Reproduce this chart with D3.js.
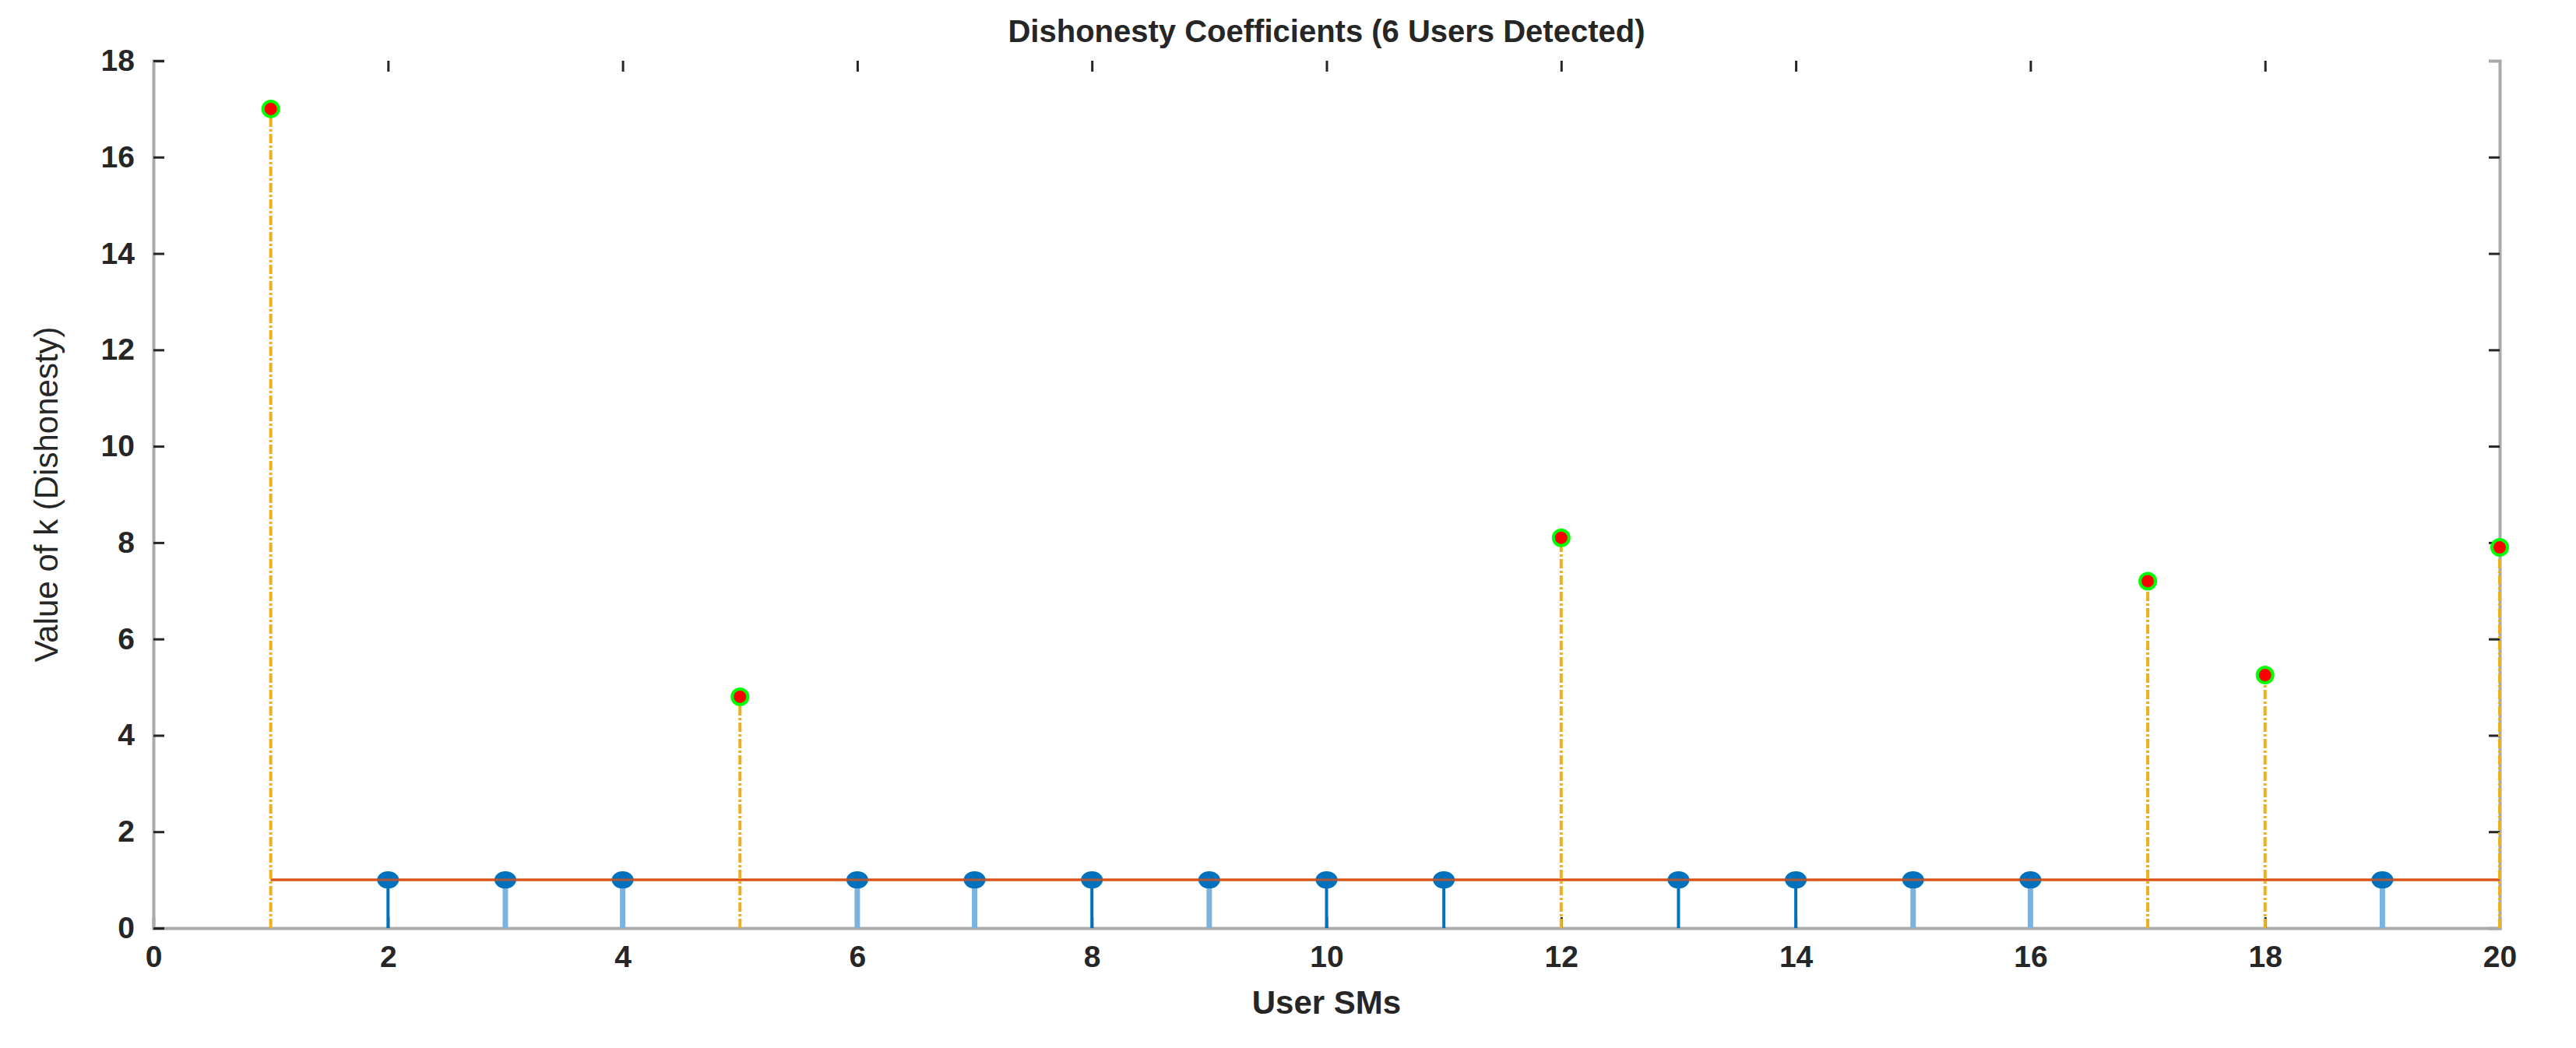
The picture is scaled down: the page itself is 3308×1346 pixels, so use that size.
<!DOCTYPE html>
<meta charset="utf-8">
<style>
body { margin: 0; background: #fff; }
text { font-family: "Liberation Sans", Arial, sans-serif; font-weight: bold; fill: #262626; }
</style>
<body>
<script src="https://cdnjs.cloudflare.com/ajax/libs/d3/7.8.5/d3.min.js"></script>
<script>
var users = d3.range(1, 21);
var kValues = [17, 1, 1, 1, 4.8, 1, 1, 1, 1, 1, 1, 8.1, 1, 1, 1, 1, 7.2, 5.25, 1, 7.9];
var dishonest = [1, 5, 12, 17, 18, 20];
var lightStems = [3, 4, 6, 7, 9, 15, 16, 19];
var xTicks = d3.range(0, 21, 2);
var yTicks = d3.range(0, 19, 2);
var threshold = 1;

var W = 3308, H = 1346;
var m = {left: 197, right: W - 3210, top: 78, bottom: H - 1192};

var svg = d3.select("body").append("svg").attr("width", W).attr("height", H);
var x = d3.scaleLinear().domain([0, 20]).range([m.left, W - m.right]);
var y = d3.scaleLinear().domain([0, 18]).range([H - m.bottom, m.top]);

// axes
var xa = svg.append("g").attr("transform", "translate(0," + y(0) + ")")
  .call(d3.axisBottom(x).tickValues(xTicks).tickSize(-14).tickPadding(22));
var ya = svg.append("g").attr("transform", "translate(" + x(0) + ",0)")
  .call(d3.axisLeft(y).tickValues(yTicks).tickSize(-14).tickPadding(24));
var yr = svg.append("g").attr("transform", "translate(" + x(20) + ",0)")
  .call(d3.axisRight(y).tickValues(yTicks.slice(1, -1)).tickSize(-14).tickFormat(""));
var xt = svg.append("g").attr("transform", "translate(0," + y(18) + ")")
  .call(d3.axisTop(x).tickValues(xTicks.slice(1, -1)).tickSize(-14).tickFormat(""));
[xa, ya, yr, xt].forEach(function(g) {
  g.selectAll("line").attr("stroke", "#262626").attr("stroke-width", 3);
  g.selectAll("text").style("font-size", "39px");
});
[xa, ya, yr].forEach(function(g) { g.select(".domain").attr("stroke", "#aaa").attr("stroke-width", 4); });
xt.select(".domain").remove();

// threshold
svg.append("line").attr("x1", x(1)).attr("x2", x(20))
  .attr("y1", y(threshold)).attr("y2", y(threshold))
  .attr("stroke", "#D95319").attr("stroke-width", 3);

var pts = users.map(function(u, i) { return {u: u, k: kValues[i], bad: dishonest.indexOf(u) >= 0}; });

// honest stems
var hon = pts.filter(function(d) { return !d.bad; });
svg.selectAll(".hstem").data(hon).enter().append("line")
  .attr("x1", d => x(d.u)).attr("x2", d => x(d.u))
  .attr("y1", y(0)).attr("y2", d => y(d.k))
  .attr("stroke", d => lightStems.indexOf(d.u) >= 0 ? "#7ab3e0" : "#0072BD")
  .attr("stroke-width", d => lightStems.indexOf(d.u) >= 0 ? 7 : 4);
svg.selectAll(".hdot").data(hon).enter().append("ellipse")
  .attr("cx", d => x(d.u)).attr("cy", d => y(d.k)).attr("rx", 14).attr("ry", 11)
  .attr("fill", "#0072BD");
svg.append("line").attr("x1", x(1)).attr("x2", x(20))
  .attr("y1", y(threshold)).attr("y2", y(threshold))
  .attr("stroke", "#D95319").attr("stroke-width", 3).attr("opacity", 0.8);

// dishonest stems
var bad = pts.filter(function(d) { return d.bad; });
svg.selectAll(".dstem").data(bad).enter().append("line")
  .attr("x1", d => x(d.u)).attr("x2", d => x(d.u))
  .attr("y1", y(0)).attr("y2", d => y(d.k))
  .attr("stroke", "#EDB120").attr("stroke-width", 4)
  .attr("stroke-dasharray", "12,3,3,3");
svg.selectAll(".ddot").data(bad).enter().append("circle")
  .attr("cx", d => x(d.u)).attr("cy", d => y(d.k)).attr("r", 10)
  .attr("fill", "#ff0000").attr("stroke", "#00ff00").attr("stroke-width", 4);

// labels
svg.append("text").attr("x", (x(0) + x(20)) / 2).attr("y", 54).attr("text-anchor", "middle")
  .style("font-size", "40px").text("Dishonesty Coefficients (6 Users Detected)");
svg.append("text").attr("x", (x(0) + x(20)) / 2).attr("y", 1302).attr("text-anchor", "middle")
  .style("font-size", "42px").text("User SMs");
svg.append("text").attr("transform", "translate(74," + y(9) + ") rotate(-90)").attr("text-anchor", "middle")
  .style("font-size", "42px").style("font-weight", "normal").text("Value of k (Dishonesty)");
</script>
</body>
